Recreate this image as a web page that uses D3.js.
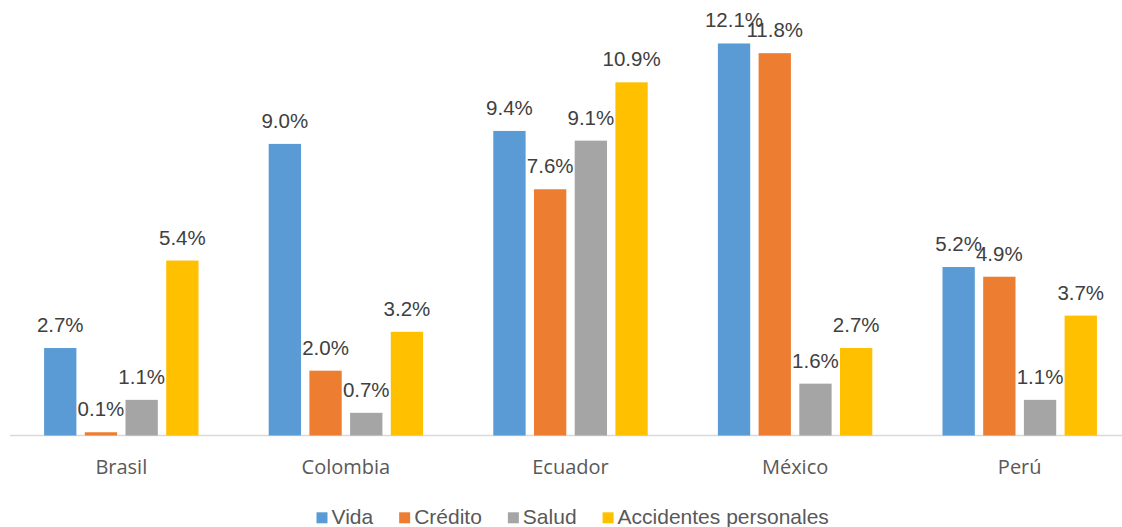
<!DOCTYPE html>
<html><head><meta charset="utf-8">
<script src="https://cdn.jsdelivr.net/npm/d3@7"></script>
<style>html,body{margin:0;padding:0;background:#fff;overflow:hidden}</style>
</head><body>
<svg id="chart" width="1122" height="527"></svg>
<script>
const categories = ["Brasil", "Colombia", "Ecuador", "México", "Perú"];
const seriesNames = ["Vida", "Crédito", "Salud", "Accidentes personales"];
const vida = [2.7, 9.0, 9.4, 12.1, 5.2];
const credito = [0.1, 2.0, 7.6, 11.8, 4.9];
const salud = [1.1, 0.7, 9.1, 1.6, 1.1];
const accidentes = [5.4, 3.2, 10.9, 2.7, 3.7];
const colors = ["#5B9BD5", "#ED7D31", "#A5A5A5", "#FFC000"];

const seriesValues = [vida, credito, salud, accidentes];
const svg = d3.select("#chart");
const font = "'Liberation Sans', Arial, sans-serif";
const catFont = "'Open Sans', 'Noto Sans', sans-serif";

const baseY = 435.5;
const y = d3.scaleLinear().domain([0, 14]).range([baseY, baseY - 14 * 32.4]);
const x0 = d3.scaleBand().domain(categories).range([9, 1132]).paddingInner(0).paddingOuter(0);
const x1 = d3.scaleBand().domain(seriesNames).range([0, x0.bandwidth()]).paddingInner(0.206).paddingOuter(0.862);

// axis line
svg.append("line").attr("x1", 10).attr("x2", 1122).attr("y1", baseY).attr("y2", baseY)
  .attr("stroke", "#D9D9D9").attr("stroke-width", 1.5);

const rows = [];
categories.forEach((c, i) => seriesNames.forEach((s, j) => rows.push({c, s, j, v: seriesValues[j][i]})));

svg.append("g").selectAll("rect").data(rows).join("rect")
  .attr("x", d => x0(d.c) + x1(d.s))
  .attr("width", x1.bandwidth())
  .attr("y", d => y(d.v))
  .attr("height", d => y(0) - y(d.v))
  .attr("fill", d => colors[d.j]);

svg.append("g").selectAll("text").data(rows).join("text")
  .attr("x", d => x0(d.c) + x1(d.s) + x1.bandwidth() / 2)
  .attr("y", d => y(d.v) - 16)
  .attr("text-anchor", "middle")
  .attr("font-family", font).attr("font-size", 20.5).attr("fill", "#404040")
  .text(d => d.v.toFixed(1) + "%");

// category labels
svg.append("g").selectAll("text").data(categories).join("text")
  .attr("x", d => x0(d) + x0.bandwidth() / 2)
  .attr("y", 474)
  .attr("text-anchor", "middle")
  .attr("font-family", catFont).attr("font-size", 20).attr("fill", "#595959")
  .text(d => d);

// legend
const lg = svg.append("g");
let lx = 316.5;
const ly = 512.3;
seriesNames.forEach((s, j) => {
  lg.append("rect").attr("x", lx).attr("y", ly).attr("width", 11).attr("height", 11).attr("fill", colors[j]);
  const t = lg.append("text").attr("x", lx + 15).attr("y", ly + 11.3)
    .attr("font-family", font).attr("font-size", 21).attr("fill", "#595959").text(s);
  lx += 15 + t.node().getComputedTextLength() + 26;
});
</script>
</body></html>
